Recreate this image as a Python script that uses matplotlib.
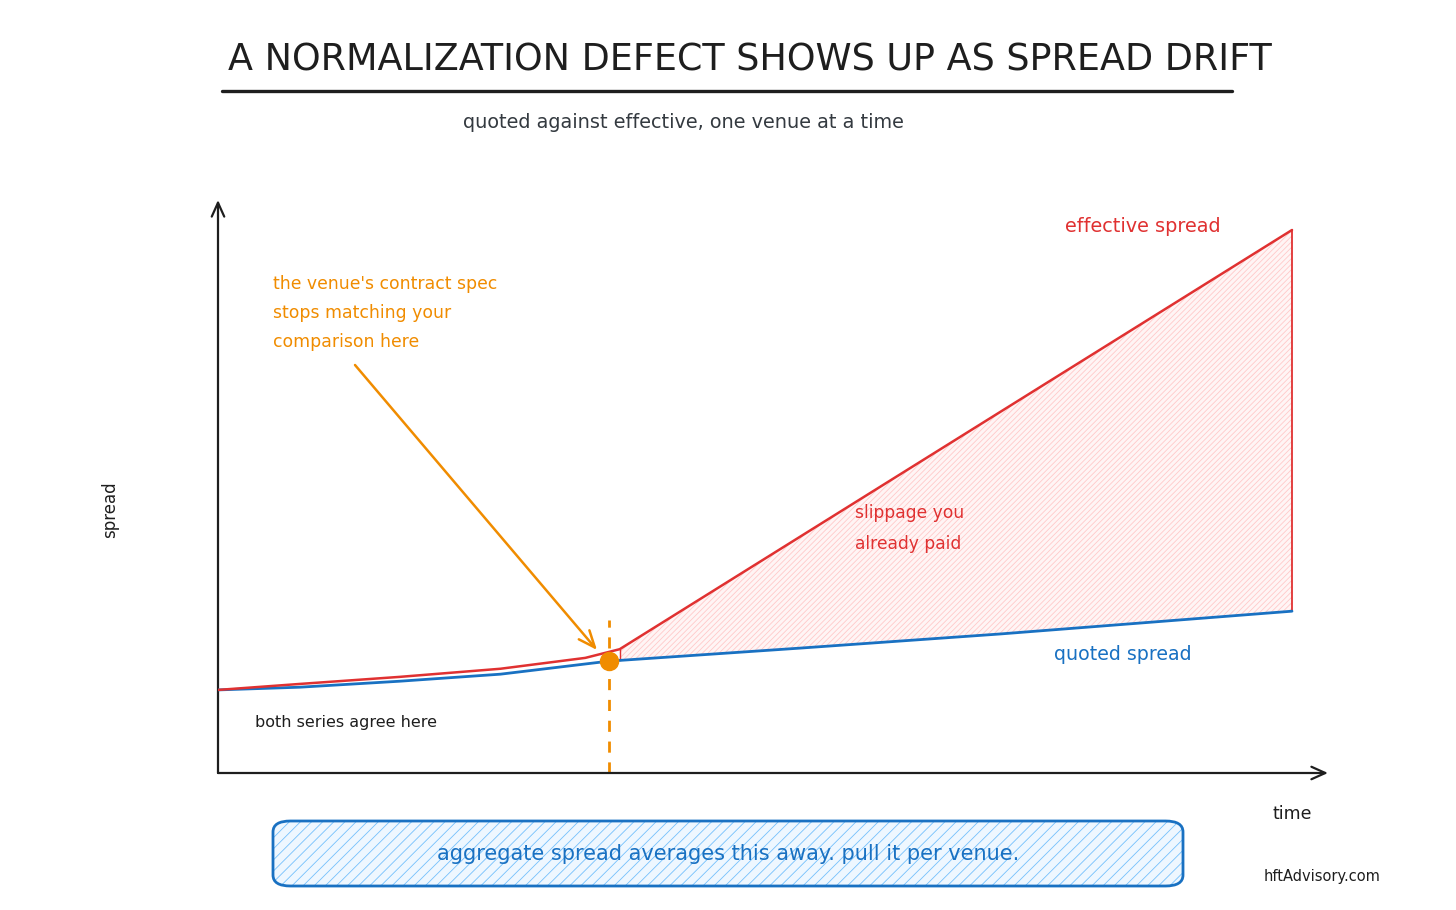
import matplotlib
matplotlib.use("Agg")
import matplotlib.pyplot as plt
from matplotlib.patches import FancyBboxPatch
import numpy as np

# ---- data (time units 0..100, spread units) ----
quoted_t = [0, 7.6, 16.9, 26.3, 36.4, 54.2, 72.8, 100]
quoted_v = [15.3, 15.8, 16.9, 18.2, 20.6, 23.0, 25.6, 29.8]
effective_t = [0, 7.6, 16.9, 26.3, 34.2, 37.4, 100]
effective_v = [15.3, 16.4, 17.7, 19.2, 21.2, 22.8, 100.0]
break_t = 36.4
break_v = 20.6

title = "A NORMALIZATION DEFECT SHOWS UP AS SPREAD DRIFT"
subtitle = "quoted against effective, one venue at a time"
callout = "aggregate spread averages this away. pull it per venue."

RED = "#e03131"
BLUE = "#1971c2"
ORANGE = "#f08c00"
INK = "#1e1e1e"

W, H = 1456, 910
plt.rcParams['font.family'] = ['DejaVu Sans']
plt.rcParams['hatch.linewidth'] = 0.6
fig = plt.figure(figsize=(W / 100, H / 100), dpi=100)


def P(x, y):
    return (x / W, 1 - y / H)


# main axes: left 218px, right 1328px, bottom 773px, top 200px
L, R, B, T = 218, 1328, 773, 200
ax = fig.add_axes([L / W, 1 - B / H, (R - L) / W, (B - T) / H])
xscale = (1292 - 218) / 100.0
yscale = 5.43
ax.set_xlim(0, (R - L) / xscale)
ax.set_ylim(0, (B - T) / yscale)
for s in ax.spines.values():
    s.set_visible(False)
ax.set_xticks([])
ax.set_yticks([])
ax.patch.set_alpha(0)

# axis arrows
ax.annotate("", xy=(0, 1.0), xytext=(0, 0), xycoords="axes fraction",
            arrowprops=dict(arrowstyle="->,head_length=1.0,head_width=0.45", color=INK, lw=1.6,
                            shrinkA=0, shrinkB=0))
ax.annotate("", xy=(1.0, 0), xytext=(0, 0), xycoords="axes fraction",
            arrowprops=dict(arrowstyle="->,head_length=1.0,head_width=0.45", color=INK, lw=1.6,
                            shrinkA=0, shrinkB=0))

# fill between effective and quoted after the break
tt = np.linspace(effective_t[-2], 100, 200)
eff_i = np.interp(tt, effective_t, effective_v)
quo_i = np.interp(tt, quoted_t, quoted_v)
ax.fill_between(tt, quo_i, eff_i, facecolor="#fff5f5", edgecolor="#ffc9c9",
                hatch="//////", linewidth=0, zorder=1)
ax.plot([tt[0], tt[0]], [quo_i[0], eff_i[0]], color=RED, lw=1.0, zorder=2)
ax.plot([100, 100], [quo_i[-1], eff_i[-1]], color=RED, lw=1.3, zorder=2)

ax.plot(quoted_t, quoted_v, color=BLUE, lw=2.0, zorder=3, solid_capstyle="round")
ax.plot(effective_t, effective_v, color=RED, lw=1.8, zorder=4, solid_capstyle="round")

# break marker
ax.plot([break_t, break_t], [0, 28.2], color=ORANGE, lw=2.0, ls=(0, (4, 3.5)), zorder=2)
ax.plot([break_t], [break_v], "o", color=ORANGE, ms=13, zorder=5)

# annotation arrow
ax.annotate("", xy=((597 - L) / xscale, (B - 650) / yscale),
            xytext=((355 - L) / xscale, (B - 365) / yscale),
            arrowprops=dict(arrowstyle="->,head_length=1.2,head_width=0.5", color=ORANGE, lw=1.8,
                            shrinkA=0, shrinkB=0))

# title
fig.text(*P(750, 60), title, ha="center", va="center", fontsize=26.3, color=INK)
fig.add_artist(plt.Line2D([222 / W, 1232 / W], [1 - 91 / H, 1 - 91 / H], color=INK, lw=2.4,
                          solid_capstyle="round"))
fig.text(*P(683, 123), subtitle, ha="center", va="center", fontsize=13.9, color="#343a40")

# labels
fig.text(*P(1143, 227), "effective spread", ha="center", va="center", fontsize=13.9, color=RED)
fig.text(*P(1123, 654), "quoted spread", ha="center", va="center", fontsize=13.7, color=BLUE)
fig.text(*P(855, 513), "slippage you", ha="left", va="center", fontsize=12.3, color=RED)
fig.text(*P(855, 544), "already paid", ha="left", va="center", fontsize=12.3, color=RED)
for i, s in enumerate(["the venue's contract spec", "stops matching your", "comparison here"]):
    fig.text(*P(273, 284 + i * 29), s, ha="left", va="center", fontsize=12.4, color=ORANGE)
fig.text(*P(255, 723), "both series agree here", ha="left", va="center", fontsize=11.5, color=INK)
fig.text(*P(110, 510), "spread", ha="center", va="center", rotation=90, fontsize=12, color=INK)
fig.text(*P(1292, 814), "time", ha="center", va="center", fontsize=12.5, color=INK)
fig.text(*P(1322, 877), "hftAdvisory.com", ha="center", va="center", fontsize=10.5, color=INK)

# callout box
bx0, by0, bx1, by1 = 273, 821, 1183, 886
box_fill = FancyBboxPatch(P(bx0, by1), (bx1 - bx0) / W, (by1 - by0) / H,
                          boxstyle="round,pad=0,rounding_size=0.012",
                          transform=fig.transFigure, facecolor="#eef7ff", edgecolor="#74c0fc",
                          hatch="///", linewidth=0)
box_edge = FancyBboxPatch(P(bx0, by1), (bx1 - bx0) / W, (by1 - by0) / H,
                          boxstyle="round,pad=0,rounding_size=0.012",
                          transform=fig.transFigure, facecolor="none", edgecolor=BLUE,
                          linewidth=2.0)
fig.add_artist(box_fill)
fig.add_artist(box_edge)
fig.text(*P(728, 854), callout, ha="center", va="center", fontsize=15, color=BLUE)

fig.savefig("out.png", dpi=100)
